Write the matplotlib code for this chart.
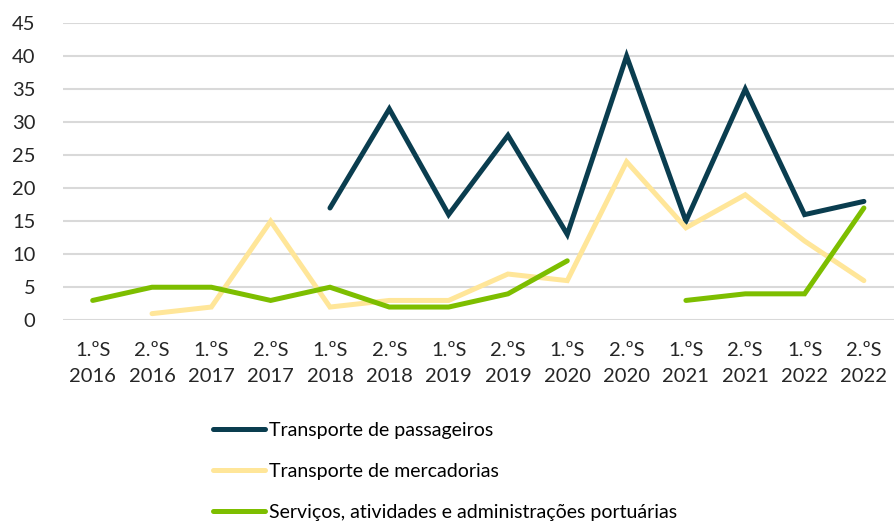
import numpy as np
import matplotlib
matplotlib.use("Agg")
from matplotlib import pyplot as plt

# semesters on the x axis
periods = ["1.ºS\n2016", "2.ºS\n2016", "1.ºS\n2017", "2.ºS\n2017", "1.ºS\n2018",
           "2.ºS\n2018", "1.ºS\n2019", "2.ºS\n2019", "1.ºS\n2020", "2.ºS\n2020",
           "1.ºS\n2021", "2.ºS\n2021", "1.ºS\n2022", "2.ºS\n2022"]

nan = np.nan
passageiros = [nan, nan, nan, nan, 17, 32, 16, 28, 13, 40, 15, 35, 16, 18]
mercadorias = [nan, 1, 2, 15, 2, 3, 3, 7, 6, 24, 14, 19, 12, 6]
portuarias = [3, 5, 5, 3, 5, 2, 2, 4, 9, nan, 3, 4, 4, 17]

labels = ["Transporte de passageiros", "Transporte de mercadorias",
          "Serviços, atividades e administrações portuárias"]
colors = ["#0A3D4F", "#FFE699", "#7DBE00"]

plt.rcParams["font.family"] = ["Lato", "DejaVu Sans"]

fig = plt.figure(figsize=(8.94, 5.25), dpi=100)
ax = fig.add_axes([0.0705, 0.39, 0.929, 0.566])

x = np.arange(len(periods))
for series, color, label in zip([passageiros, mercadorias, portuarias], colors, labels):
    ax.plot(x, series, color=color, linewidth=3.6, label=label,
            solid_capstyle="round", solid_joinstyle="miter")

ax.set_xlim(-0.5, len(periods) - 0.5)
ax.set_ylim(0, 45)
ax.set_yticks(range(0, 50, 5))
ax.set_xticks(x)
ax.set_xticklabels(periods, fontsize=14.5, color="#262626", linespacing=1.6)
ax.tick_params(axis="y", labelsize=14.5, labelcolor="#262626", length=0, pad=20)
ax.tick_params(axis="x", length=0, pad=16)
ax.grid(axis="y", color="#D9D9D9", linewidth=1.5)
ax.set_axisbelow(True)
for spine in ax.spines.values():
    spine.set_visible(False)

fig.legend(loc="upper left", bbox_to_anchor=(0.238, 0.197), frameon=False,
           fontsize=14, handlelength=2.7, handletextpad=0.2, labelspacing=1.25,
           borderaxespad=0, borderpad=0)

fig.savefig("out.png", dpi=100)
